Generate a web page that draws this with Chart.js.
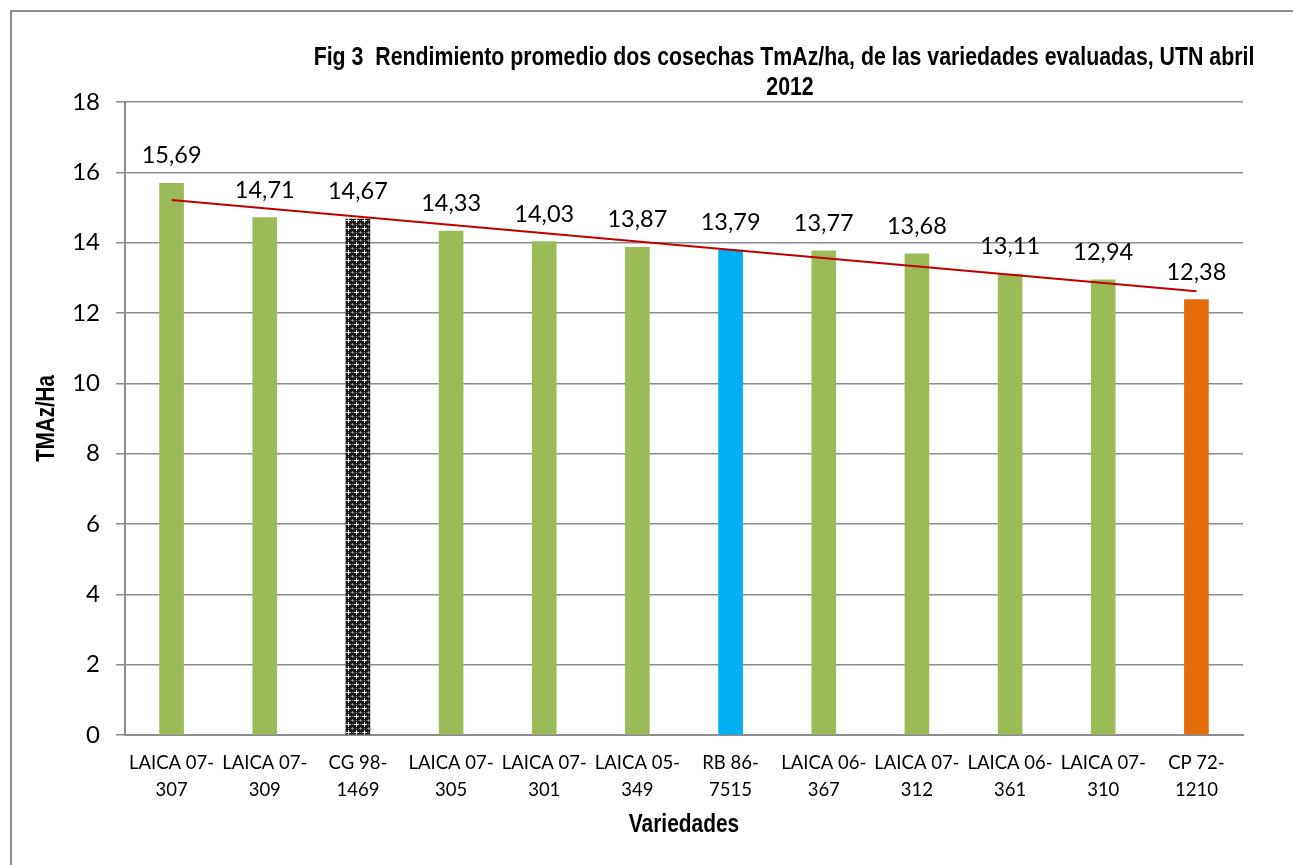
<!DOCTYPE html>
<html>
<head>
<meta charset="utf-8">
<script src="https://cdn.jsdelivr.net/npm/chart.js@4.4.0/dist/chart.umd.min.js"></script>
<style>
  body { margin: 0; overflow: hidden; background: #fff; }
  #wrap { position: relative; width: 1293px; height: 865px; }
  #frame { position: absolute; left: 10px; top: 10px; width: 1400px; height: 1000px;
           border: 2px solid #8c8c8c; pointer-events: none; }
</style>
</head>
<body>
<div id="wrap">
  <canvas id="myChart"></canvas>
  <div id="frame"></div>
</div>
<script>
// datos del gráfico
const variedades = [
  ['LAICA 07-', '307'], ['LAICA 07-', '309'], ['CG 98-', '1469'], ['LAICA 07-', '305'],
  ['LAICA 07-', '301'], ['LAICA 05-', '349'], ['RB 86-', '7515'], ['LAICA 06-', '367'],
  ['LAICA 07-', '312'], ['LAICA 06-', '361'], ['LAICA 07-', '310'], ['CP 72-', '1210']
];
const rendimiento = [15.69, 14.71, 14.67, 14.33, 14.03, 13.87, 13.79, 13.77, 13.68, 13.11, 12.94, 12.38];
// línea de tendencia (extremos)
const tendencia = [15.21, null, null, null, null, null, null, null, null, null, null, 12.62];
const yTicks = [0, 2, 4, 6, 8, 10, 12, 14, 16, 18];

const tituloLineas = ['Fig 3  Rendimiento promedio dos cosechas TmAz/ha, de las variedades evaluadas, UTN abril', '2012'];
const tituloX = 'Variedades';
const tituloY = 'TMAz/Ha';

// trama para la barra testigo
function makePattern() {
  const c = document.createElement('canvas');
  c.width = 8; c.height = 8;
  const g = c.getContext('2d');
  g.fillStyle = '#1a1a1a';
  g.fillRect(0, 0, 8, 8);
  g.fillStyle = '#f0f0f0';
  g.fillRect(4, 2, 1, 5);
  g.fillRect(2, 4, 5, 1);
  g.fillStyle = '#8a8a8a';
  g.fillRect(0, 0, 1, 2);
  g.fillRect(0, 7, 1, 1);
  g.fillRect(1, 0, 1, 1);
  g.fillRect(7, 0, 1, 1);
  g.fillRect(4, 0, 1, 1);
  g.fillRect(0, 4, 1, 1);
  return g.createPattern(c, 'repeat');
}

const verde = '#9BBB59';
const colores = rendimiento.map(() => verde);
colores[2] = makePattern();
colores[6] = '#00B0F0';
colores[11] = '#E46C0A';

const gris = '#8c8c8c';
const narrow = '"Liberation Sans", Arial, sans-serif';

const etiquetas = {
  id: 'etiquetas',
  afterDatasetsDraw(chart) {
    const ctx = chart.ctx;
    const meta = chart.getDatasetMeta(1);
    ctx.save();
    ctx.font = '23.5px Lato';
    ctx.fillStyle = '#000';
    ctx.textAlign = 'center';
    ctx.textBaseline = 'alphabetic';
    meta.data.forEach((bar, i) => {
      ctx.fillText(rendimiento[i].toFixed(2).replace('.', ','), bar.x, bar.y - 20);
    });
    ctx.restore();
  }
};

// texto en negrita "estrecha" (Arial Narrow) simulada con escala horizontal
function textoEstrecho(ctx, txt, x, y, size, rot) {
  ctx.save();
  ctx.translate(x, y);
  if (rot) ctx.rotate(rot);
  ctx.scale(0.82, 1);
  ctx.font = 'bold ' + size + 'px ' + narrow;
  ctx.fillStyle = '#000';
  ctx.textAlign = 'center';
  ctx.textBaseline = 'middle';
  ctx.fillText(txt, 0, 0);
  ctx.restore();
}

const titulos = {
  id: 'titulos',
  afterDraw(chart) {
    const ctx = chart.ctx;
    const a = chart.chartArea;
    textoEstrecho(ctx, tituloLineas[0], 784, 58, 26, 0);
    textoEstrecho(ctx, tituloLineas[1], 790, 88, 26, 0);
    textoEstrecho(ctx, tituloX, (a.left + a.right) / 2, 825, 25.5, 0);
    textoEstrecho(ctx, tituloY, 47, (a.top + a.bottom) / 2, 25, -Math.PI / 2);
  }
};

const myChart = new Chart(document.getElementById('myChart'), {
  type: 'bar',
  data: {
    labels: variedades,
    datasets: [
      {
        type: 'line',
        data: tendencia,
        spanGaps: true,
        borderColor: '#C00000',
        borderWidth: 2,
        pointRadius: 0,
        order: 0
      },
      {
        data: rendimiento,
        backgroundColor: colores,
        barThickness: 24,
        order: 1
      }
    ]
  },
  options: {
    responsive: true,
    maintainAspectRatio: false,
    animation: false,
    layout: { padding: { top: 102, right: 50, left: 0, bottom: 0 } },
    plugins: {
      legend: { display: false },
      tooltip: { enabled: false }
    },
    scales: {
      x: {
        grid: { display: false, drawTicks: false },
        border: { display: true, color: gris, width: 2 },
        ticks: { color: '#000', padding: 15, font: { family: 'Lato', size: 18.5, lineHeight: 1.45 } },
        afterFit(scale) { scale.height = 130; }
      },
      y: {
        min: 0, max: 18,
        afterBuildTicks(scale) { scale.ticks = yTicks.map(v => ({ value: v })); },
        grid: { color: gris, lineWidth: 1.5, tickLength: 9 },
        border: { display: true, color: gris, width: 2 },
        ticks: { color: '#000', padding: 16, font: { family: 'Lato', size: 24 } },
        afterFit(scale) { scale.width = 125; }
      }
    }
  },
  plugins: [etiquetas, titulos]
});
</script>
</body>
</html>
